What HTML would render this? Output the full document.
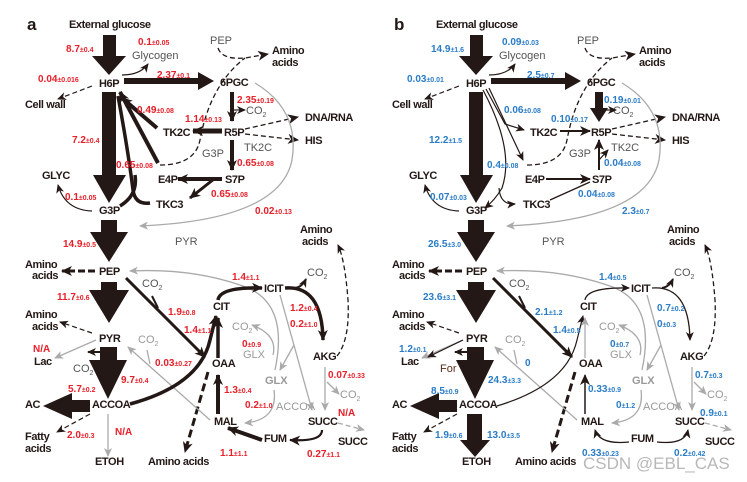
<!DOCTYPE html>
<html><head><meta charset="utf-8"><style>
html,body{margin:0;padding:0;background:#fff;}
svg{display:block;}
text{font-family:"Liberation Sans",sans-serif;}
.n{font-weight:bold;font-size:11px;fill:#231815;letter-spacing:-0.4px;}
.g{font-size:11px;fill:#555;}
.gb{font-weight:bold;font-size:11px;fill:#999;}
.gl{font-size:11px;fill:#999;}
.r{font-weight:bold;font-size:10px;fill:#e8202a;}
.b{font-weight:bold;font-size:10px;fill:#2a7cc7;}
.s{font-size:7px;}
.k{fill:none;stroke:#231815;}
.y{fill:none;stroke:#aaa;stroke-width:1.3;}
</style></head><body>
<svg width="747" height="482" viewBox="0 0 747 482" xmlns="http://www.w3.org/2000/svg">
<defs>
<marker id="ah" markerUnits="userSpaceOnUse" markerWidth="12" markerHeight="10" refX="10" refY="5" orient="auto"><path d="M0,0 L11,5 L0,10 L3,5z" fill="#231815"/></marker>
<marker id="as" markerUnits="userSpaceOnUse" markerWidth="10" markerHeight="8" refX="8" refY="4" orient="auto"><path d="M0,0 L9,4 L0,8 L2.5,4z" fill="#231815"/></marker>
<marker id="ag" markerUnits="userSpaceOnUse" markerWidth="10" markerHeight="8" refX="8" refY="4" orient="auto"><path d="M0,0 L9,4 L0,8 L2.5,4z" fill="#aaa"/></marker>
</defs>

<g id="common">
<text class="n" x="69" y="28">External glucose</text>
<text class="g" x="132" y="59">Glycogen</text>
<text class="g" x="210" y="44">PEP</text>
<text class="n" x="272" y="54">Amino</text><text class="n" x="272" y="66">acids</text>
<text class="n" x="99" y="87">H6P</text>
<text class="n" x="220" y="86">6PGC</text>
<text class="n" x="25" y="108">Cell wall</text>
<text class="g" x="246" y="114">CO<tspan font-size="7" dy="3">2</tspan></text>
<text class="n" x="305" y="121">DNA/RNA</text>
<text class="n" x="305" y="144">HIS</text>
<text class="n" x="163" y="136">TK2C</text>
<text class="n" x="224" y="136">R5P</text>
<text class="g" x="244" y="151">TK2C</text>
<text class="g" x="202" y="157">G3P</text>
<text class="n" x="158" y="183">E4P</text>
<text class="n" x="225" y="183">S7P</text>
<text class="n" x="42" y="179">GLYC</text>
<text class="n" x="156" y="208">TKC3</text>
<text class="n" x="99" y="214">G3P</text>
<text class="g" x="175" y="245">PYR</text>
<text class="n" x="300" y="233">Amino</text><text class="n" x="302" y="245">acids</text>
<text class="n" x="25" y="268">Amino</text><text class="n" x="32" y="279">acids</text>
<text class="n" x="99" y="275">PEP</text>
<text class="g" x="142" y="287">CO<tspan font-size="7" dy="3">2</tspan></text>
<text class="n" x="264" y="292">ICIT</text>
<text class="g" x="307" y="276">CO<tspan font-size="7" dy="3">2</tspan></text>
<text class="n" x="213" y="310">CIT</text>
<text class="n" x="25" y="318">Amino</text><text class="n" x="32" y="330">acids</text>
<text class="n" x="99" y="342">PYR</text>
<text class="gl" x="138" y="343">CO<tspan font-size="7" dy="3">2</tspan></text>
<text class="gl" x="232" y="330">CO<tspan font-size="7" dy="3">2</tspan></text>
<text class="gl" x="243" y="358">GLX</text>
<text class="n" x="34" y="365">Lac</text>
<text class="n" x="212" y="367">OAA</text>
<text class="n" x="313" y="360">AKG</text>
<text class="gb" x="265" y="384">GLX</text>
<text class="gl" x="340" y="398">CO<tspan font-size="7" dy="3">2</tspan></text>
<text class="n" x="25" y="408">AC</text>
<text class="n" x="92" y="408">ACCOA</text>
<text class="gl" x="276" y="410">ACCOA</text>
<text class="n" x="214" y="425">MAL</text>
<text class="n" x="308" y="425">SUCC</text>
<text class="n" x="264" y="442">FUM</text>
<text class="n" x="338" y="445">SUCC</text>
<text class="n" x="25" y="440">Fatty</text><text class="n" x="25" y="452">acids</text>
<text class="n" x="95" y="465">ETOH</text>
<text class="n" x="148" y="465">Amino acids</text>
<!-- shared thick arrows -->
<polygon points="103,35 116,35 116,56 126,56 109,75 92,56 103,56" fill="#231815"/>
<polygon points="124,78 198,78 198,72 214,81 198,90 198,84 124,84" fill="#231815"/>
<polygon points="102,92 116,92 116,175 126,175 109,203 93,175 102,175" fill="#231815"/>
<polygon points="101,220 117,220 117,232 128,232 109,262 90,232 101,232" fill="#231815"/>
<polygon points="101,282 117,282 117,290 129,290 109,323 89,290 101,290" fill="#231815"/>
<polygon points="100,347 117,347 117,360 127,360 108,399 89,360 100,360" fill="#231815"/>
<polygon points="90,400 72,400 72,393 43,406 72,419 72,412 90,412" fill="#231815"/>
<!-- shared thin / dashed -->
<path class="k" d="M122,75 Q140,75 148,64" stroke-width="1.2" marker-end="url(#as)"/>
<path class="k" d="M92,86 L58,99" stroke-width="1.2" stroke-dasharray="5,3" marker-end="url(#as)"/>
<path class="k" d="M218,48 Q222,60 245,58 L268,54" stroke-width="1.3" stroke-dasharray="5,3" marker-end="url(#ah)"/>
<path class="k" d="M160,165 Q195,165 200,140 Q210,85 245,58" stroke-width="1.3" stroke-dasharray="5,3"/>
<path class="k" d="M245,129 L298,117" stroke-width="1.3" stroke-dasharray="5,3" marker-end="url(#ah)"/>
<path class="k" d="M245,134 L298,140" stroke-width="1.3" stroke-dasharray="5,3" marker-end="url(#ah)"/>
<path class="k" d="M92,211 Q65,210 58,185" stroke-width="1.2" marker-end="url(#as)"/>
<path class="y" d="M255,83 Q300,110 292,160 Q280,220 140,226" marker-end="url(#ag)"/>
<path class="k" d="M337,356 Q350,340 348,300 Q345,260 338,245" stroke-width="1.3" stroke-dasharray="5,3" marker-end="url(#as)"/>
<path class="k" d="M95,271 L62,271" stroke-width="3" stroke-dasharray="7,3" marker-end="url(#ah)"/>
<path class="k" d="M92,333 L60,322" stroke-width="1.2" stroke-dasharray="5,3" marker-end="url(#as)"/>
<path class="k" d="M90,414 L57,432" stroke-width="1.2" stroke-dasharray="5,3" marker-end="url(#as)"/>
<path class="k" d="M208,372 L185,452" stroke-width="3" stroke-dasharray="8,4" marker-end="url(#ah)"/>
<path class="y" d="M275,370 Q290,300 240,285 Q190,268 130,271" marker-end="url(#ag)"/>
<path class="y" d="M210,420 L128,347" marker-end="url(#ag)"/>
<path class="y" d="M150,364 L147,350"/>
<path class="y" d="M96,340 L55,358" marker-end="url(#ag)"/>
<path class="y" d="M280,295 L312,410" marker-end="url(#ag)"/>
<path class="y" d="M294,345 L280,370" marker-end="url(#ag)"/>
<path class="y" d="M273,355 Q278,335 252,325" marker-end="url(#ag)"/>
<path class="y" d="M274,390 Q278,420 245,423" marker-end="url(#ag)"/>
<path class="y" d="M325,367 L325,410" marker-end="url(#ag)"/>
<path class="y" d="M327,382 L339,394" marker-end="url(#ag)"/>
<path class="y" d="M338,423 L364,430" stroke-dasharray="5,3" marker-end="url(#ag)"/>
<path class="k" d="M295,288 Q302,287 306,279" stroke-width="2" marker-end="url(#as)"/>
<path class="k" d="M152,296 L158,308" stroke-width="2"/>
</g>
<use href="#common" x="367" y="0"/>

<!-- panel a -->
<text x="27" y="30" font-weight="bold" font-size="17" font-family="Liberation Sans,sans-serif" fill="#231815">a</text>
<path class="k" d="M232,92 L232,121" stroke-width="4" marker-end="url(#ah)"/>
<path class="k" d="M232,110 L245,110" stroke-width="1.2" marker-end="url(#as)"/>
<path class="k" d="M222,131 L193,131" stroke-width="5" marker-end="url(#ah)"/>
<path class="k" d="M232,140 L232,170" stroke-width="4" marker-end="url(#ah)"/>
<path class="k" d="M222,179 L178,179" stroke-width="4" marker-end="url(#ah)"/>
<path class="k" d="M214,179 L190,198" stroke-width="3" marker-end="url(#ah)"/>
<path class="k" d="M157,128 L122,98" stroke-width="4" marker-end="url(#ah)"/>
<path class="k" d="M158,163 L120,92" stroke-width="4" marker-end="url(#ah)"/>
<path class="k" d="M150,203 Q135,205 133,190 Q128,150 118,96" stroke-width="3.5"/>
<path class="k" d="M120,206 Q138,195 135,175" stroke-width="3.5"/>
<path class="k" d="M126,278 L205,357" stroke-width="3" marker-end="url(#ah)"/>
<path class="k" d="M130,404 Q200,385 210,340 L216,316" stroke-width="3.5" marker-end="url(#ah)"/>
<path class="k" d="M218,358 L218,318" stroke-width="3.5" marker-end="url(#ah)"/>
<path class="k" d="M218,300 Q220,287 262,288" stroke-width="3.5" marker-end="url(#ah)"/>
<path class="k" d="M285,288 Q322,285 323,340" stroke-width="3.5" marker-end="url(#ah)"/>
<path class="k" d="M218,414 L218,375" stroke-width="4" marker-end="url(#ah)"/>
<path class="k" d="M262,440 L228,428" stroke-width="4" marker-end="url(#ah)"/>
<path class="k" d="M322,430 Q322,442 290,440" stroke-width="2.2" marker-end="url(#ah)"/>
<path class="k" d="M100,352 L88,352" stroke-width="2" marker-end="url(#as)"/>
<path class="y" d="M108,414 L108,456" marker-end="url(#ag)"/>
<text class="g" x="73" y="372">CO<tspan font-size="7" dy="3">2</tspan></text>

<text class="r" x="66" y="52">8.7<tspan class="s">±0.4</tspan></text>
<text class="r" x="138" y="45">0.1<tspan class="s">±0.05</tspan></text>
<text class="r" x="38" y="82">0.04<tspan class="s">±0.016</tspan></text>
<text class="r" x="157" y="78">2.37<tspan class="s">±0.1</tspan></text>
<text class="r" x="237" y="103">2.35<tspan class="s">±0.19</tspan></text>
<text class="r" x="137" y="113">0.49<tspan class="s">±0.08</tspan></text>
<text class="r" x="185" y="122">1.14<tspan class="s">±0.13</tspan></text>
<text class="r" x="72" y="143">7.2<tspan class="s">±0.4</tspan></text>
<text class="r" x="116" y="168">0.65<tspan class="s">±0.08</tspan></text>
<text class="r" x="237" y="166">0.65<tspan class="s">±0.08</tspan></text>
<text class="r" x="211" y="197">0.65<tspan class="s">±0.08</tspan></text>
<text class="r" x="65" y="200">0.1<tspan class="s">±0.05</tspan></text>
<text class="r" x="255" y="214">0.02<tspan class="s">±0.13</tspan></text>
<text class="r" x="63" y="247">14.9<tspan class="s">±0.5</tspan></text>
<text class="r" x="57" y="300">11.7<tspan class="s">±0.6</tspan></text>
<text class="r" x="232" y="280">1.4<tspan class="s">±1.1</tspan></text>
<text class="r" x="168" y="315">1.9<tspan class="s">±0.8</tspan></text>
<text class="r" x="184" y="333">1.4<tspan class="s">±1.1</tspan></text>
<text class="r" x="290" y="311">1.2<tspan class="s">±0.4</tspan></text>
<text class="r" x="290" y="327">0.2<tspan class="s">±1.0</tspan></text>
<text class="r" x="242" y="347">0<tspan class="s">±0.9</tspan></text>
<text class="r" x="33" y="352" font-size="11">N/A</text>
<text class="r" x="155" y="366">0.03<tspan class="s">±0.27</tspan></text>
<text class="r" x="328" y="378">0.07<tspan class="s">±0.33</tspan></text>
<text class="r" x="121" y="383">9.7<tspan class="s">±0.4</tspan></text>
<text class="r" x="224" y="393">1.3<tspan class="s">±0.4</tspan></text>
<text class="r" x="68" y="392">5.7<tspan class="s">±0.2</tspan></text>
<text class="r" x="245" y="408">0.2<tspan class="s">±1.0</tspan></text>
<text class="r" x="338" y="416" font-size="11">N/A</text>
<text class="r" x="115" y="435" font-size="11">N/A</text>
<text class="r" x="67" y="438">2.0<tspan class="s">±0.3</tspan></text>
<text class="r" x="220" y="456">1.1<tspan class="s">±1.1</tspan></text>
<text class="r" x="307" y="457">0.27<tspan class="s">±1.1</tspan></text>

<!-- panel b -->
<text x="394" y="30" font-weight="bold" font-size="17" font-family="Liberation Sans,sans-serif" fill="#231815">b</text>
<polygon points="595,92 603,92 603,108 608,108 599,122 590,108 595,108" fill="#231815"/>
<path class="k" d="M603,110 L616,110" stroke-width="1.2" marker-end="url(#as)"/>
<path class="k" d="M560,131 L590,131" stroke-width="2" marker-end="url(#ah)"/>
<path class="k" d="M599,170 L599,140" stroke-width="2" marker-end="url(#ah)"/>
<path class="k" d="M599,160 L608,150" stroke-width="1.2" marker-end="url(#as)"/>
<path class="k" d="M546,179 L590,179" stroke-width="2" marker-end="url(#ah)"/>
<path class="k" d="M550,200 L590,182" stroke-width="1.3"/>
<path class="k" d="M486,89 L505,124 L524,130" stroke-width="1.2" marker-end="url(#as)"/>
<path class="k" d="M489,88 L523,160" stroke-width="1.2" marker-end="url(#as)"/>
<path class="k" d="M483,90 Q515,150 502,188 Q495,200 485,208" stroke-width="1.2" marker-end="url(#as)"/>
<path class="k" d="M499,188 Q500,205 515,204" stroke-width="1.2" marker-end="url(#as)"/>
<path class="k" d="M493,278 L572,357" stroke-width="3" marker-end="url(#ah)"/>
<path class="k" d="M497,406 Q567,385 577,340 L583,316" stroke-width="1.2" marker-end="url(#as)"/>
<path class="y" d="M585,358 L585,318" marker-end="url(#ag)"/>
<path class="k" d="M585,300 Q587,287 629,288" stroke-width="1.3" marker-end="url(#as)"/>
<path class="k" d="M652,288 Q689,285 690,340" stroke-width="1.3" marker-end="url(#as)"/>
<path class="k" d="M585,414 L585,375" stroke-width="1.5" marker-end="url(#ah)"/>
<path class="k" d="M629,442 Q600,445 595,430" stroke-width="1.3" marker-end="url(#as)"/>
<path class="k" d="M657,442 Q685,445 688,430" stroke-width="1.3" marker-end="url(#as)"/>
<path class="k" d="M463,340 L428,357" stroke-width="1.2" marker-end="url(#as)"/>
<path class="k" d="M467,352 L455,352" stroke-width="2" marker-end="url(#as)"/>
<polygon points="467,414 482,414 482,440 490,440 475,457 460,440 467,440" fill="#231815"/>
<text x="440" y="372" font-size="11" font-family="Liberation Sans,sans-serif" fill="#5a2a1a">For</text>

<text class="b" x="431" y="52">14.9<tspan class="s">±1.6</tspan></text>
<text class="b" x="502" y="45">0.09<tspan class="s">±0.03</tspan></text>
<text class="b" x="407" y="82">0.03<tspan class="s">±0.01</tspan></text>
<text class="b" x="527" y="78">2.5<tspan class="s">±0.7</tspan></text>
<text class="b" x="604" y="103">0.19<tspan class="s">±0.01</tspan></text>
<text class="b" x="504" y="113">0.06<tspan class="s">±0.08</tspan></text>
<text class="b" x="551" y="122">0.10<tspan class="s">±0.17</tspan></text>
<text class="b" x="429" y="143">12.2<tspan class="s">±1.5</tspan></text>
<text class="b" x="487" y="168">0.4<tspan class="s">±0.08</tspan></text>
<text class="b" x="604" y="166">0.04<tspan class="s">±0.08</tspan></text>
<text class="b" x="578" y="197">0.04<tspan class="s">±0.08</tspan></text>
<text class="b" x="430" y="200">0.07<tspan class="s">±0.03</tspan></text>
<text class="b" x="622" y="214">2.3<tspan class="s">±0.7</tspan></text>
<text class="b" x="428" y="247">26.5<tspan class="s">±3.0</tspan></text>
<text class="b" x="423" y="300">23.6<tspan class="s">±3.1</tspan></text>
<text class="b" x="599" y="280">1.4<tspan class="s">±0.5</tspan></text>
<text class="b" x="535" y="315">2.1<tspan class="s">±1.2</tspan></text>
<text class="b" x="553" y="333">1.4<tspan class="s">±0.5</tspan></text>
<text class="b" x="657" y="311">0.7<tspan class="s">±0.2</tspan></text>
<text class="b" x="657" y="327">0<tspan class="s">±0.3</tspan></text>
<text class="b" x="610" y="347">0<tspan class="s">±0.7</tspan></text>
<text class="b" x="399" y="352">1.2<tspan class="s">±0.1</tspan></text>
<text class="b" x="525" y="366">0</text>
<text class="b" x="695" y="378">0.7<tspan class="s">±0.3</tspan></text>
<text class="b" x="488" y="383">24.3<tspan class="s">±3.3</tspan></text>
<text class="b" x="588" y="392">0.33<tspan class="s">±0.9</tspan></text>
<text class="b" x="431" y="394">8.5<tspan class="s">±0.9</tspan></text>
<text class="b" x="616" y="408">0<tspan class="s">±1.2</tspan></text>
<text class="b" x="700" y="416">0.9<tspan class="s">±0.1</tspan></text>
<text class="b" x="487" y="438">13.0<tspan class="s">±3.5</tspan></text>
<text class="b" x="435" y="438">1.9<tspan class="s">±0.6</tspan></text>
<text class="b" x="582" y="456">0.33<tspan class="s">±0.23</tspan></text>
<text class="b" x="674" y="456">0.2<tspan class="s">±0.42</tspan></text>
<text x="583" y="469" font-size="17" font-family="Liberation Sans,sans-serif" fill="#b8b8b8">CSDN @EBL_CAS</text>
</svg>
</body></html>
